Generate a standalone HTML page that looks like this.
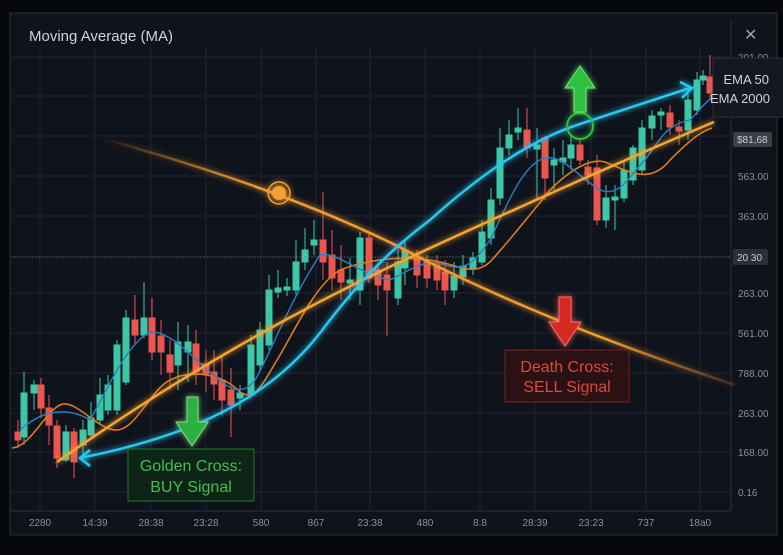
<!DOCTYPE html>
<html><head><meta charset="utf-8"><style>
html,body{margin:0;padding:0;background:#06080c;}
svg{display:block;}
text{font-family:"Liberation Sans",sans-serif;}
</style></head><body>
<svg width="783" height="555" viewBox="0 0 783 555" xmlns="http://www.w3.org/2000/svg">
<defs>
<filter id="glow" x="-20%" y="-20%" width="140%" height="140%"><feGaussianBlur stdDeviation="3" result="b"/><feMerge><feMergeNode in="b"/><feMergeNode in="SourceGraphic"/></feMerge></filter>
<linearGradient id="fadeL" x1="0" x2="1"><stop offset="0" stop-color="#e08a2a" stop-opacity="0"/><stop offset="0.25" stop-color="#f09a30"/><stop offset="0.8" stop-color="#f09a30"/><stop offset="1" stop-color="#c07030" stop-opacity="0.2"/></linearGradient>
</defs>
<rect width="783" height="555" fill="#06080c"/>
<rect x="10" y="13" width="767" height="522" fill="#0f131c" stroke="#2a2f38" stroke-width="1"/>
<text x="29" y="41" font-size="15" fill="#d0d4da">Moving Average (MA)</text>
<text x="744" y="40" font-size="16" fill="#9aa0a8">✕</text>
<line x1="731" y1="20" x2="731" y2="511" stroke="#2a2f38"/>
<line x1="11" y1="511" x2="731" y2="511" stroke="#2a2f38"/>
<g stroke="#1f2530" stroke-width="1">
<line x1="40" y1="48" x2="40" y2="511"/><line x1="95" y1="48" x2="95" y2="511"/><line x1="151" y1="48" x2="151" y2="511"/><line x1="206" y1="48" x2="206" y2="511"/><line x1="261" y1="48" x2="261" y2="511"/><line x1="316" y1="48" x2="316" y2="511"/><line x1="370" y1="48" x2="370" y2="511"/><line x1="425" y1="48" x2="425" y2="511"/><line x1="480" y1="48" x2="480" y2="511"/><line x1="535" y1="48" x2="535" y2="511"/><line x1="591" y1="48" x2="591" y2="511"/><line x1="646" y1="48" x2="646" y2="511"/><line x1="700" y1="48" x2="700" y2="511"/>
<line x1="11" y1="57" x2="731" y2="57"/><line x1="11" y1="96" x2="731" y2="96"/><line x1="11" y1="136" x2="731" y2="136"/><line x1="11" y1="176" x2="731" y2="176"/><line x1="11" y1="216" x2="731" y2="216"/><line x1="11" y1="293" x2="731" y2="293"/><line x1="11" y1="333" x2="731" y2="333"/><line x1="11" y1="373" x2="731" y2="373"/><line x1="11" y1="413" x2="731" y2="413"/><line x1="11" y1="452" x2="731" y2="452"/><line x1="11" y1="492" x2="731" y2="492"/>
</g>
<line x1="11" y1="257" x2="731" y2="257" stroke="#4a505a" stroke-dasharray="2,1"/>
<g font-size="10" fill="#8a9098">
<text x="738" y="61">201.00</text><text x="738" y="180">563.00</text><text x="738" y="220">363.00</text><text x="738" y="297">263.00</text><text x="738" y="337">561.00</text><text x="738" y="377">788.00</text><text x="738" y="417">263.00</text><text x="738" y="456">168.00</text><text x="738" y="496">0.16</text>
</g>
<rect x="733" y="132" width="39" height="15" rx="2" fill="#3a3f48"/><text x="737" y="143" font-size="10" fill="#c8ccd2">$81,68</text>
<rect x="733" y="249" width="35" height="16" rx="2" fill="#2a2f38"/><text x="737" y="261" font-size="10" fill="#c8ccd2">20 30</text>
<g font-size="10" fill="#8a9098" text-anchor="middle">
<text x="40" y="526">2280</text><text x="95" y="526">14:39</text><text x="151" y="526">28:38</text><text x="206" y="526">23:28</text><text x="261" y="526">580</text><text x="316" y="526">867</text><text x="370" y="526">23:38</text><text x="425" y="526">480</text><text x="480" y="526">8:8</text><text x="535" y="526">28:39</text><text x="591" y="526">23:23</text><text x="646" y="526">737</text><text x="700" y="526">18a0</text>
</g>
<g stroke-width="1">
<g stroke="#e9564f" fill="#e9564f">
<line x1="18" y1="420" x2="18" y2="448"/><rect x="15" y="432" width="6" height="8"/>
<line x1="41" y1="378" x2="41" y2="418"/><rect x="38" y="385" width="6" height="23"/>
<line x1="49" y1="395" x2="49" y2="445"/><rect x="46" y="408" width="6" height="17"/>
<line x1="57" y1="420" x2="57" y2="468"/><rect x="54" y="426" width="6" height="32"/>
<line x1="74" y1="428" x2="74" y2="478"/><rect x="71" y="432" width="6" height="30"/>
<line x1="135" y1="295" x2="135" y2="345"/><rect x="132" y="320" width="6" height="15"/>
<line x1="152" y1="298" x2="152" y2="360"/><rect x="149" y="318" width="6" height="34"/>
<line x1="161" y1="320" x2="161" y2="375"/><rect x="158" y="336" width="6" height="16"/>
<line x1="170" y1="340" x2="170" y2="390"/><rect x="167" y="355" width="6" height="17"/>
<line x1="196" y1="330" x2="196" y2="385"/><rect x="193" y="344" width="6" height="28"/>
<line x1="206" y1="350" x2="206" y2="392"/><rect x="203" y="364" width="6" height="10"/>
<line x1="214" y1="350" x2="214" y2="400"/><rect x="211" y="372" width="6" height="12"/>
<line x1="222" y1="355" x2="222" y2="415"/><rect x="219" y="380" width="6" height="20"/>
<line x1="231" y1="368" x2="231" y2="437"/><rect x="228" y="390" width="6" height="15"/>
<line x1="323" y1="192" x2="323" y2="280"/><rect x="320" y="240" width="6" height="22"/>
<line x1="332" y1="230" x2="332" y2="290"/><rect x="329" y="255" width="6" height="23"/>
<line x1="341" y1="245" x2="341" y2="300"/><rect x="338" y="270" width="6" height="12"/>
<line x1="369" y1="232" x2="369" y2="283"/><rect x="366" y="238" width="6" height="40"/>
<line x1="378" y1="262" x2="378" y2="300"/><rect x="375" y="270" width="6" height="15"/>
<line x1="387" y1="262" x2="387" y2="336"/><rect x="384" y="275" width="6" height="15"/>
<line x1="417" y1="250" x2="417" y2="288"/><rect x="414" y="257" width="6" height="18"/>
<line x1="427" y1="255" x2="427" y2="288"/><rect x="424" y="262" width="6" height="16"/>
<line x1="437" y1="255" x2="437" y2="290"/><rect x="434" y="265" width="6" height="15"/>
<line x1="445" y1="260" x2="445" y2="305"/><rect x="442" y="272" width="6" height="18"/>
<line x1="527" y1="108" x2="527" y2="158"/><rect x="524" y="130" width="6" height="18"/>
<line x1="545" y1="136" x2="545" y2="200"/><rect x="542" y="138" width="6" height="40"/>
<line x1="580" y1="140" x2="580" y2="165"/><rect x="577" y="145" width="6" height="15"/>
<line x1="588" y1="160" x2="588" y2="185"/><rect x="585" y="167" width="6" height="8"/>
<line x1="597" y1="155" x2="597" y2="225"/><rect x="594" y="168" width="6" height="52"/>
<line x1="670" y1="105" x2="670" y2="135"/><rect x="667" y="113" width="6" height="14"/>
<line x1="679" y1="120" x2="679" y2="145"/><rect x="676" y="127" width="6" height="4"/>
<line x1="710" y1="55" x2="710" y2="100"/><rect x="707" y="77" width="6" height="16"/>
</g>
<g stroke="#3cc8a8" fill="#3cc8a8">
<line x1="24" y1="372" x2="24" y2="445"/><rect x="21" y="393" width="6" height="44"/>
<line x1="34" y1="380" x2="34" y2="410"/><rect x="31" y="385" width="6" height="8"/>
<line x1="66" y1="425" x2="66" y2="462"/><rect x="63" y="432" width="6" height="28"/>
<line x1="83" y1="420" x2="83" y2="455"/><rect x="80" y="430" width="6" height="15"/>
<line x1="91" y1="402" x2="91" y2="440"/><rect x="88" y="418" width="6" height="17"/>
<line x1="100" y1="378" x2="100" y2="425"/><rect x="97" y="395" width="6" height="25"/>
<line x1="108" y1="375" x2="108" y2="415"/><rect x="105" y="385" width="6" height="25"/>
<line x1="117" y1="340" x2="117" y2="415"/><rect x="114" y="345" width="6" height="65"/>
<line x1="126" y1="310" x2="126" y2="385"/><rect x="123" y="318" width="6" height="64"/>
<line x1="144" y1="282" x2="144" y2="338"/><rect x="141" y="318" width="6" height="17"/>
<line x1="178" y1="322" x2="178" y2="390"/><rect x="175" y="342" width="6" height="23"/>
<line x1="188" y1="325" x2="188" y2="382"/><rect x="185" y="342" width="6" height="10"/>
<line x1="240" y1="385" x2="240" y2="410"/><rect x="237" y="393" width="6" height="5"/>
<line x1="251" y1="335" x2="251" y2="398"/><rect x="248" y="345" width="6" height="50"/>
<line x1="260" y1="322" x2="260" y2="372"/><rect x="257" y="330" width="6" height="35"/>
<line x1="269" y1="275" x2="269" y2="350"/><rect x="266" y="290" width="6" height="55"/>
<line x1="278" y1="270" x2="278" y2="298"/><rect x="275" y="288" width="6" height="4"/>
<line x1="287" y1="278" x2="287" y2="296"/><rect x="284" y="287" width="6" height="3"/>
<line x1="296" y1="240" x2="296" y2="295"/><rect x="293" y="262" width="6" height="28"/>
<line x1="305" y1="228" x2="305" y2="270"/><rect x="302" y="250" width="6" height="12"/>
<line x1="314" y1="220" x2="314" y2="255"/><rect x="311" y="240" width="6" height="5"/>
<line x1="350" y1="258" x2="350" y2="300"/><rect x="347" y="280" width="6" height="3"/>
<line x1="360" y1="232" x2="360" y2="305"/><rect x="357" y="238" width="6" height="52"/>
<line x1="398" y1="250" x2="398" y2="305"/><rect x="395" y="262" width="6" height="36"/>
<line x1="405" y1="240" x2="405" y2="285"/><rect x="402" y="250" width="6" height="18"/>
<line x1="454" y1="262" x2="454" y2="298"/><rect x="451" y="276" width="6" height="14"/>
<line x1="463" y1="255" x2="463" y2="285"/><rect x="460" y="266" width="6" height="11"/>
<line x1="473" y1="252" x2="473" y2="275"/><rect x="470" y="258" width="6" height="10"/>
<line x1="482" y1="220" x2="482" y2="265"/><rect x="479" y="232" width="6" height="30"/>
<line x1="491" y1="188" x2="491" y2="245"/><rect x="488" y="200" width="6" height="38"/>
<line x1="500" y1="128" x2="500" y2="205"/><rect x="497" y="148" width="6" height="50"/>
<line x1="509" y1="120" x2="509" y2="155"/><rect x="506" y="135" width="6" height="13"/>
<line x1="518" y1="108" x2="518" y2="140"/><rect x="515" y="128" width="6" height="4"/>
<line x1="537" y1="128" x2="537" y2="200"/><rect x="534" y="145" width="6" height="4"/>
<line x1="554" y1="148" x2="554" y2="190"/><rect x="551" y="160" width="6" height="5"/>
<line x1="563" y1="140" x2="563" y2="175"/><rect x="560" y="158" width="6" height="4"/>
<line x1="571" y1="135" x2="571" y2="170"/><rect x="568" y="145" width="6" height="13"/>
<line x1="606" y1="185" x2="606" y2="228"/><rect x="603" y="198" width="6" height="22"/>
<line x1="615" y1="185" x2="615" y2="230"/><rect x="612" y="197" width="6" height="3"/>
<line x1="624" y1="160" x2="624" y2="202"/><rect x="621" y="170" width="6" height="28"/>
<line x1="633" y1="145" x2="633" y2="185"/><rect x="630" y="148" width="6" height="32"/>
<line x1="642" y1="120" x2="642" y2="175"/><rect x="639" y="128" width="6" height="42"/>
<line x1="652" y1="110" x2="652" y2="140"/><rect x="649" y="116" width="6" height="12"/>
<line x1="661" y1="108" x2="661" y2="130"/><rect x="658" y="112" width="6" height="3"/>
<line x1="688" y1="90" x2="688" y2="140"/><rect x="685" y="100" width="6" height="30"/>
<line x1="697" y1="72" x2="697" y2="115"/><rect x="694" y="80" width="6" height="30"/>
<line x1="703" y1="70" x2="703" y2="85"/><rect x="700" y="76" width="6" height="4"/>
</g>
</g>
<path d="M12,448 C30,447 45,412 60,405 C75,398 95,428 115,430 C135,432 150,390 170,380 C190,370 220,372 240,392 C255,402 262,385 280,355 C295,330 315,285 340,270 C370,258 410,255 440,262 C465,268 475,275 490,262 C510,240 530,215 550,190 C570,170 590,158 605,162 C630,172 650,185 670,160 C690,140 700,132 712,128" fill="none" stroke="#e07a20" stroke-width="1.6"/>
<path d="M20,430 C40,412 65,405 90,420 C105,395 125,345 150,332 C170,330 195,360 210,372 C225,385 240,400 255,380 C270,355 290,300 320,255 C335,250 360,275 390,280 C410,270 425,258 445,265 C465,272 475,262 490,240 C505,210 520,170 540,160 C560,150 575,175 600,190 C620,198 630,175 645,160 C660,140 665,125 690,120 C700,110 705,102 712,98" fill="none" stroke="#2a7fc8" stroke-width="1.4"/>
<g filter="url(#glow)">
<path d="M100,138 Q290,190 415,255 T735,385" fill="none" stroke="url(#fadeL)" stroke-width="2.5"/>
<path d="M57,462 Q230,340 415,255 T714,122" fill="none" stroke="#f5a530" stroke-width="2.5"/>
<path d="M80,458 C170,440 260,410 320,333 C360,280 390,250 430,220 C480,175 530,140 580,124 C630,108 660,98 690,88" fill="none" stroke="#28c8f0" stroke-width="2.5"/>
<path d="M90,450 L80,458 L90,466" fill="none" stroke="#28c8f0" stroke-width="2.5"/>
<path d="M680,82 L692,88 L682,98" fill="none" stroke="#28c8f0" stroke-width="2.5"/>
<circle cx="279" cy="193" r="7" fill="#f5a030"/>
<circle cx="279" cy="193" r="11" fill="none" stroke="#f5a030" stroke-width="1.5"/>
<circle cx="580" cy="126" r="13" fill="none" stroke="#2ec040" stroke-width="2"/>
<polygon points="580,66 595,88 586,88 586,112 574,112 574,88 565,88" fill="#2ec040" stroke="#7be07b" stroke-width="1"/>
<polygon points="187,397 198,397 198,422 208,422 192,446 176,422 187,422" fill="#2eb040" stroke="#8ad88a" stroke-width="1"/>
<polygon points="559,297 571,297 571,322 581,322 565,346 549,322 559,322" fill="#d42a20" stroke="#f07070" stroke-width="1"/>
</g>
<rect x="128" y="449" width="126" height="52" fill="#0e2416" stroke="#1f7a30" stroke-width="1"/>
<text x="191" y="471" font-size="16" fill="#3fc050" text-anchor="middle">Golden Cross:</text>
<text x="191" y="492" font-size="16" fill="#3fc050" text-anchor="middle">BUY Signal</text>
<rect x="505" y="350" width="124" height="52" fill="#2a1214" stroke="#7a2020" stroke-width="1"/>
<text x="567" y="372" font-size="16" fill="#e0473a" text-anchor="middle">Death Cross:</text>
<text x="567" y="392" font-size="16" fill="#e0473a" text-anchor="middle">SELL Signal</text>
<rect x="713" y="58" width="72" height="59" fill="#141820" stroke="#2a2f38"/>
<text x="769" y="84" font-size="13" fill="#d0d4da" text-anchor="end">EMA 50</text>
<text x="770" y="103" font-size="13" fill="#d0d4da" text-anchor="end">EMA 2000</text>
</svg>
</body></html>
